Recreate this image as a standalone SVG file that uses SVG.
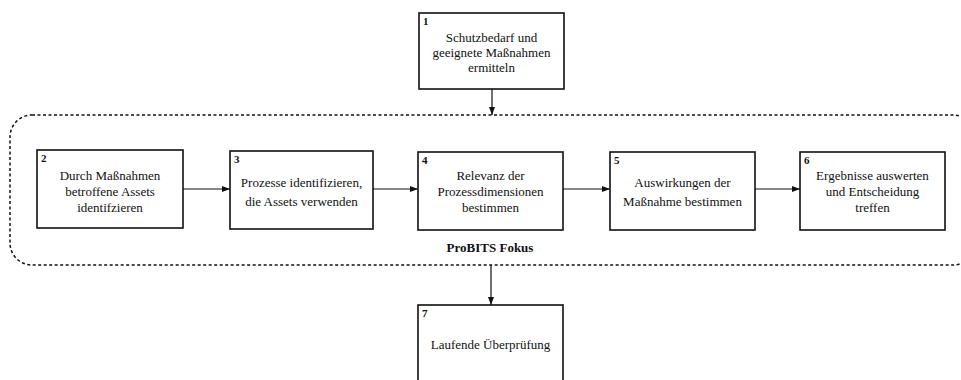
<svg xmlns="http://www.w3.org/2000/svg" width="961" height="380" viewBox="0 0 961 380">
<defs>
<style>
.box{fill:#fff;stroke:#111;stroke-width:1.6}
.t{font-family:"Liberation Serif","Times New Roman",serif;font-size:13px;fill:#111;text-anchor:middle}
.n{font-family:"Liberation Serif","Times New Roman",serif;font-size:11px;font-weight:bold;fill:#111}
.b{font-family:"Liberation Serif","Times New Roman",serif;font-size:13px;font-weight:bold;fill:#111;text-anchor:middle}
.c{fill:none;stroke:#111;stroke-width:1.2}
.d{fill:none;stroke:#111;stroke-width:1.5;stroke-dasharray:3 2.5}
</style>
<marker id="ah" viewBox="0 0 8 6" refX="8" refY="3" markerWidth="8" markerHeight="6" markerUnits="userSpaceOnUse" orient="auto">
<path d="M0,0 L8,3 L0,6 z" fill="#111"/>
</marker>
</defs>
<rect width="961" height="380" fill="#fff"/>
<g id="focus">
<rect class="d" x="10" y="115" width="965" height="150" rx="22" ry="22"/>
<text class="b" x="490" y="252">ProBITS Fokus</text>
</g>
<g id="connectors">
<line class="c" x1="492" y1="89" x2="492" y2="115" marker-end="url(#ah)"/>
<line class="c" x1="183" y1="189" x2="230" y2="189" marker-end="url(#ah)"/>
<line class="c" x1="373" y1="189" x2="418" y2="189" marker-end="url(#ah)"/>
<line class="c" x1="563" y1="189" x2="610" y2="189" marker-end="url(#ah)"/>
<line class="c" x1="755" y1="189" x2="800" y2="189" marker-end="url(#ah)"/>
<line class="c" x1="491" y1="265" x2="491" y2="305" marker-end="url(#ah)"/>
</g>
<g id="n1">
<rect class="box" x="419" y="13" width="145" height="76"/>
<text class="n" x="423" y="25">1</text>
<text class="t" x="491.5" y="42">Schutzbedarf und</text>
<text class="t" x="491.5" y="57">geeignete Maßnahmen</text>
<text class="t" x="491.5" y="72">ermitteln</text>
</g>
<g id="n2">
<rect class="box" x="37" y="150" width="146" height="78"/>
<text class="n" x="41" y="162">2</text>
<text class="t" x="110" y="180">Durch Maßnahmen</text>
<text class="t" x="110" y="196">betroffene Assets</text>
<text class="t" x="110" y="212">identifzieren</text>
</g>
<g id="n3">
<rect class="box" x="230" y="151" width="143" height="78"/>
<text class="n" x="234" y="163">3</text>
<text class="t" x="301.5" y="187">Prozesse identifizieren,</text>
<text class="t" x="301.5" y="206">die Assets verwenden</text>
</g>
<g id="n4">
<rect class="box" x="418" y="152" width="145" height="78"/>
<text class="n" x="422" y="164">4</text>
<text class="t" x="490.5" y="180">Relevanz der</text>
<text class="t" x="490.5" y="196">Prozessdimensionen</text>
<text class="t" x="490.5" y="212">bestimmen</text>
</g>
<g id="n5">
<rect class="box" x="610" y="152" width="145" height="78"/>
<text class="n" x="614" y="164">5</text>
<text class="t" x="682.5" y="187">Auswirkungen der</text>
<text class="t" x="682.5" y="206">Maßnahme bestimmen</text>
</g>
<g id="n6">
<rect class="box" x="800" y="152" width="145" height="78"/>
<text class="n" x="804" y="164">6</text>
<text class="t" x="872.5" y="180">Ergebnisse auswerten</text>
<text class="t" x="872.5" y="196">und Entscheidung</text>
<text class="t" x="872.5" y="212">treffen</text>
</g>
<g id="n7">
<rect class="box" x="418" y="305" width="145" height="90"/>
<text class="n" x="422" y="317">7</text>
<text class="t" x="490.5" y="349">Laufende Überprüfung</text>
</g>
</svg>
